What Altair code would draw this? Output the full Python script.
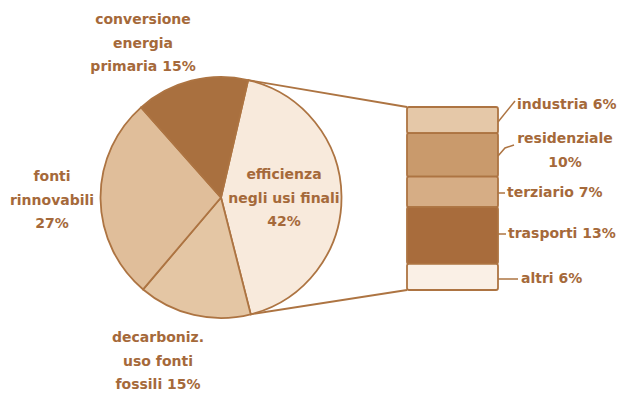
import math
import altair as alt
import pandas as pd

# ---------------- data ----------------
pie_names = ["efficienza negli usi finali", "decarbonizzazione uso fonti fossili",
             "fonti rinnovabili", "conversione energia primaria"]
pie_values = [42, 15, 27, 15]
pie_lines = [["efficienza", "negli usi finali"], ["decarboniz.", "uso fonti", "fossili"],
             ["fonti", "rinnovabili"], ["conversione", "energia", "primaria"]]

bar_names = ["industria", "residenziale", "terziario", "trasporti", "altri"]
bar_values = [6, 10, 7, 13, 6]

# ---------------- style / layout ----------------
pie_colors = ["#f8eadc", "#e4c6a4", "#e0be9a", "#a9703f"]
bar_colors = ["#e5c8a8", "#c99a6c", "#d6ad85", "#a86c3c", "#faf0e6"]
stroke = "#ad7442"
text_color = "#a5693a"
font = "DejaVu Sans"
fs = 14
fw = "bold"
lh = 23.5

W, H = 618, 396
cx, cy, r = 221, 197.5, 120.5
start_deg = 13
bar_x0, bar_x1 = 407, 498
bar_y0, bar_y1 = 107, 290

# label positions (first line)
pie_label_pos = [(284, 175), (158, 338), (52, 177), (143, 20)]
bar_label_pos = [(517, 105, "left"), (565, 139, "center"), (507, 193, "left"),
                 (508, 234, "left"), (521, 279, "left")]
bar_label_lines = [["industria 6%"], ["residenziale", "10%"], ["terziario 7%"],
                   ["trasporti 13%"], ["altri 6%"]]
leaders = [
    [(498, 122), (515, 101)],
    [(498, 156), (505, 148), (514, 145)],
    [(498, 193), (505, 193)],
    [(498, 234), (506, 234)],
    [(498, 279), (518, 279)],
]

# ---------------- tables ----------------
pie_df = pd.DataFrame({"name": pie_names, "value": pie_values, "ord": range(len(pie_names))})

cum = [0]
for v in bar_values:
    cum.append(cum[-1] + v)
total_bar = cum[-1]
bar_df = pd.DataFrame({"name": bar_names, "value": bar_values,
                       "start": cum[:-1], "end": cum[1:]})

lab_rows = []
for (lines, v), (x, y) in zip(zip(pie_lines, pie_values), pie_label_pos):
    ls = list(lines)
    if len(ls) == 3:
        ls[-1] = f"{ls[-1]} {v}%"
    else:
        ls.append(f"{v}%")
    lab_rows.append({"px": x, "py": y, "txt": "\n".join(ls), "al": "center"})
for lines, (x, y, al) in zip(bar_label_lines, bar_label_pos):
    lab_rows.append({"px": x, "py": y, "txt": "\n".join(lines), "al": al})
lab_df = pd.DataFrame(lab_rows)

# connector lines from pie (edge of the exploded slice) to bar corners
total = sum(pie_values)
a0 = math.radians(start_deg)
a1 = a0 + 2 * math.pi * pie_values[0] / total
conn_df = pd.DataFrame({
    "px": [cx + r * math.sin(a0), cx + r * math.sin(a1)],
    "py": [cy - r * math.cos(a0), cy - r * math.cos(a1)],
    "px2": [bar_x0, bar_x0],
    "py2": [bar_y0, bar_y1],
})

lead_rows = []
for g, pts in enumerate(leaders):
    for i, (x, y) in enumerate(pts):
        lead_rows.append({"g": g, "i": i, "px": x, "py": y})
lead_df = pd.DataFrame(lead_rows)

xs = alt.Scale(domain=[0, W], range=[0, W], nice=False, zero=False)
ys = alt.Scale(domain=[0, H], range=[0, H], nice=False, zero=False)

pie = alt.Chart(pie_df).mark_arc(radius=r, stroke=stroke, strokeWidth=1.8).encode(
    theta=alt.Theta("value:Q", stack=True,
                    scale=alt.Scale(range=[a0, a0 + 2 * math.pi])),
    color=alt.Color("name:N", scale=alt.Scale(domain=pie_names, range=pie_colors), legend=None),
    order=alt.Order("ord:Q"),
    x=alt.value(cx), y=alt.value(cy),
)

conn = alt.Chart(conn_df).mark_rule(color=stroke, strokeWidth=1.8).encode(
    x=alt.X("px:Q", scale=xs, axis=None), y=alt.Y("py:Q", scale=ys, axis=None),
    x2="px2:Q", y2="py2:Q",
)

bars = alt.Chart(bar_df).mark_rect(stroke=stroke, strokeWidth=1.8, cornerRadius=2).encode(
    x=alt.value(bar_x0), x2=alt.value(bar_x1),
    y=alt.Y("start:Q", scale=alt.Scale(domain=[0, total_bar], range=[bar_y0, bar_y1],
                                       nice=False, zero=False), axis=None),
    y2="end:Q",
    color=alt.Color("name:N", scale=alt.Scale(domain=bar_names, range=bar_colors), legend=None),
)

lead = alt.Chart(lead_df).mark_line(color=stroke, strokeWidth=1.5).encode(
    x=alt.X("px:Q", scale=xs, axis=None), y=alt.Y("py:Q", scale=ys, axis=None),
    detail="g:N", order="i:Q",
)

def text_layer(al):
    return alt.Chart(lab_df[lab_df["al"] == al]).mark_text(
        font=font, fontSize=fs, fontWeight=fw, color=text_color, align=al, baseline="middle",
        lineBreak="\n", lineHeight=lh,
    ).encode(
        x=alt.X("px:Q", scale=xs, axis=None), y=alt.Y("py:Q", scale=ys, axis=None),
        text="txt:N",
    )

chart = alt.layer(pie, conn, bars, lead, text_layer("center"), text_layer("left")).resolve_scale(
    x="independent", y="independent", color="independent"
).properties(
    width=W, height=H, padding=0, autosize=alt.AutoSizeParams(type="none"), background="white"
).configure_view(stroke=None)

chart.save("out.html", embed_options={"renderer": "svg", "actions": False})
